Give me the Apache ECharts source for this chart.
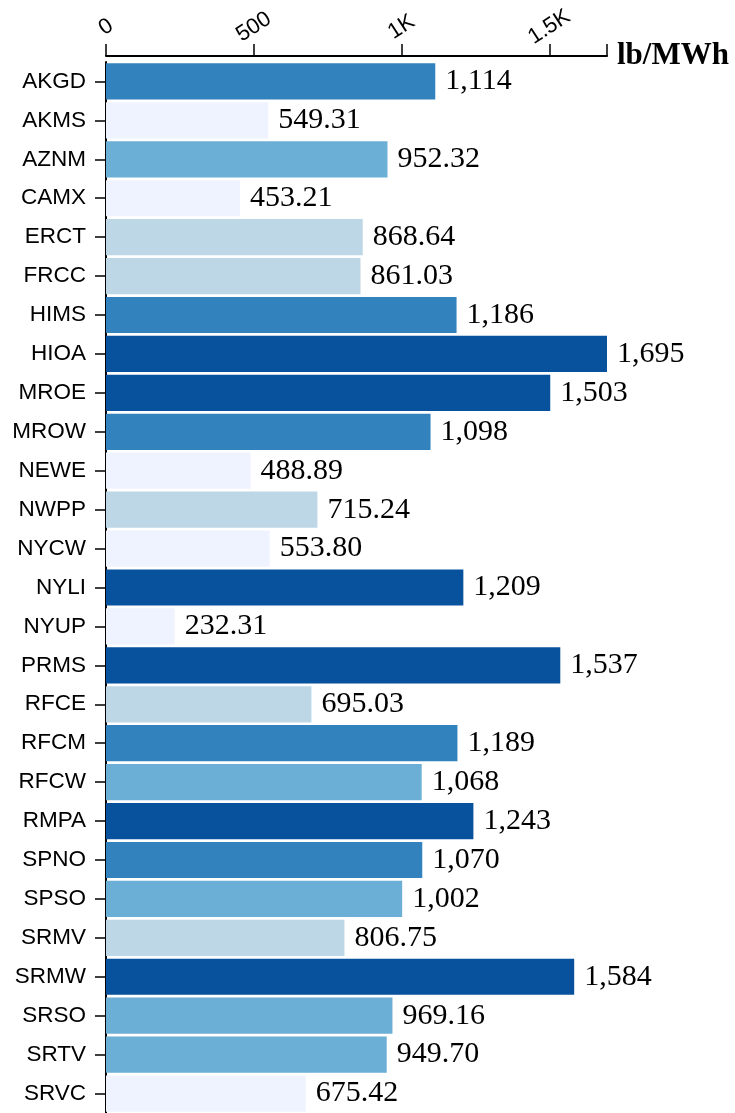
<!DOCTYPE html>
<html><head><meta charset="utf-8">
<script src="https://cdn.jsdelivr.net/npm/echarts@6/dist/echarts.min.js"></script>
<style>html,body{margin:0;padding:0;background:#fff}#c{width:735px;height:1113px}</style>
</head><body><div id="c"></div>
<script>
const categories = ["AKGD","AKMS","AZNM","CAMX","ERCT","FRCC","HIMS","HIOA","MROE","MROW","NEWE","NWPP","NYCW","NYLI","NYUP","PRMS","RFCE","RFCM","RFCW","RMPA","SPNO","SPSO","SRMV","SRMW","SRSO","SRTV","SRVC"];
const values = [1114,549.31,952.32,453.21,868.64,861.03,1186,1695,1503,1098,488.89,715.24,553.80,1209,232.31,1537,695.03,1189,1068,1243,1070,1002,806.75,1584,969.16,949.70,675.42];
const tickValues = [0,500,1000,1500];
const tickLabels = ["0","500","1K","1.5K"];
const colorBreaks = [685,940,1069,1200];
const colors = ["#eff3ff","#bdd7e7","#6baed6","#3182bd","#08519c"];

const maxVal = Math.max(...values);
const fmt = v => v >= 1000 ? Math.round(v).toLocaleString('en-US') : v.toFixed(2);
const colorOf = v => { let i = 0; while (i < colorBreaks.length && v >= colorBreaks[i]) i++; return colors[i]; };

const chart = echarts.init(document.getElementById('c'));
chart.setOption({
  animation: false,
  grid: {left: 106, right: 128, top: 62, bottom: 0},
  xAxis: {
    type: 'value', position: 'top', min: 0, max: maxVal, offset: 6,
    name: 'lb/MWh', nameLocation: 'end', nameGap: 10,
    nameTextStyle: {fontFamily: 'Liberation Serif', fontWeight: 'bold', fontSize: 31, color: '#000', verticalAlign: 'middle', padding: [0,0,24,0]},
    axisLine: {show: true, lineStyle: {color: '#000', width: 2}},
    axisTick: {show: true, length: 12, lineStyle: {color: '#000', width: 1.5}, customValues: tickValues.concat([maxVal])},
    axisLabel: {color: '#000', fontFamily: 'Liberation Sans', fontSize: 22, rotate: -33, margin: 29,
      align: 'center', verticalAlign: 'middle',
      customValues: tickValues,
      formatter: v => tickLabels[tickValues.indexOf(v)] ?? ''},
    splitLine: {show: false}
  },
  yAxis: {
    type: 'category', data: categories, inverse: true,
    axisLine: {show: true, lineStyle: {color: '#000', width: 2}},
    axisTick: {show: true, alignWithLabel: true, length: 11, lineStyle: {color: '#000', width: 1.5}},
    axisLabel: {color: '#000', fontFamily: 'Liberation Sans', fontSize: 22.5, margin: 20}
  },
  series: [{
    type: 'bar', barCategoryGap: '7%',
    data: values.map(v => ({value: v, itemStyle: {color: colorOf(v)}})),
    label: {show: true, position: 'right', distance: 10, color: '#000',
      fontFamily: 'Liberation Serif', fontSize: 30,
      formatter: p => fmt(p.value)}
  }]
});
</script></body></html>
